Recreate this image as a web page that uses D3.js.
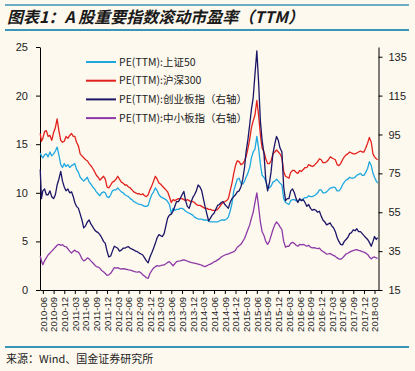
<!DOCTYPE html>
<html>
<head>
<meta charset="utf-8">
<script src="https://cdn.jsdelivr.net/npm/d3@7"></script>
<style>
  html, body { margin: 0; padding: 0; background: #fdf9ef; }
  svg { display: block; }
</style>
</head>
<body>
<div id="chart"></div>
<script>
// semi-monthly readings of the rolling PE (TTM)
const dates = [
  "2010-05-10","2010-05-20",
  "2010-06-01","2010-06-16","2010-07-01","2010-07-16","2010-08-01","2010-08-16","2010-09-01","2010-09-16","2010-10-01","2010-10-16","2010-11-01","2010-11-16","2010-12-01","2010-12-16",
  "2011-01-01","2011-01-16","2011-02-01","2011-02-16","2011-03-01","2011-03-16","2011-04-01","2011-04-16","2011-05-01","2011-05-16","2011-06-01","2011-06-16","2011-07-01","2011-07-16","2011-08-01","2011-08-16","2011-09-01","2011-09-16","2011-10-01","2011-10-16","2011-11-01","2011-11-16","2011-12-01","2011-12-16",
  "2012-01-01","2012-01-16","2012-02-01","2012-02-16","2012-03-01","2012-03-16","2012-04-01","2012-04-16","2012-05-01","2012-05-16","2012-06-01","2012-06-16","2012-07-01","2012-07-16","2012-08-01","2012-08-16","2012-09-01","2012-09-16","2012-10-01","2012-10-16","2012-11-01","2012-11-16","2012-12-01","2012-12-16",
  "2013-01-01","2013-01-16","2013-02-01","2013-02-16","2013-03-01","2013-03-16","2013-04-01","2013-04-16","2013-05-01","2013-05-16","2013-06-01","2013-06-16","2013-07-01","2013-07-16","2013-08-01","2013-08-16","2013-09-01","2013-09-16","2013-10-01","2013-10-16","2013-11-01","2013-11-16","2013-12-01","2013-12-16",
  "2014-01-01","2014-01-16","2014-02-01","2014-02-16","2014-03-01","2014-03-16","2014-04-01","2014-04-16","2014-05-01","2014-05-16","2014-06-01","2014-06-16","2014-07-01","2014-07-16","2014-08-01","2014-08-16","2014-09-01","2014-09-16","2014-10-01","2014-10-16","2014-11-01","2014-11-16","2014-12-01","2014-12-16",
  "2015-01-01","2015-01-16","2015-02-01","2015-02-16","2015-03-01","2015-03-16","2015-04-01","2015-04-16","2015-05-01","2015-05-16","2015-06-01","2015-06-16","2015-07-01","2015-07-16","2015-08-01","2015-08-16","2015-09-01","2015-09-16","2015-10-01","2015-10-16","2015-11-01","2015-11-16","2015-12-01","2015-12-16",
  "2016-01-01","2016-01-16","2016-02-01","2016-02-16","2016-03-01","2016-03-16","2016-04-01","2016-04-16","2016-05-01","2016-05-16","2016-06-01","2016-06-16","2016-07-01","2016-07-16","2016-08-01","2016-08-16","2016-09-01","2016-09-16","2016-10-01","2016-10-16","2016-11-01","2016-11-16","2016-12-01","2016-12-16",
  "2017-01-01","2017-01-16","2017-02-01","2017-02-16","2017-03-01","2017-03-16","2017-04-01","2017-04-16","2017-05-01","2017-05-16","2017-06-01","2017-06-16","2017-07-01","2017-07-16","2017-08-01","2017-08-16","2017-09-01","2017-09-16","2017-10-01","2017-10-16","2017-11-01","2017-11-16","2017-12-01","2017-12-16",
  "2018-01-01","2018-01-16","2018-02-01","2018-02-16","2018-03-01","2018-03-16","2018-03-28"
];

// 上证50 (left axis)
const sz50 = [
  14.1,13.8,
  13.6,13.9,14.0,13.7,14.2,13.8,14.0,14.3,14.7,13.9,12.9,12.6,13.0,12.7,
  12.9,12.6,12.8,12.9,13.0,12.4,12.1,11.6,11.4,11.2,11.4,11.6,11.1,10.9,10.6,10.4,10.1,9.9,9.7,10.0,10.1,10.0,9.6,9.5,
  9.8,10.2,10.3,10.3,10.5,10.3,10.1,10.0,9.8,9.7,9.6,9.4,9.3,9.1,9.0,8.9,8.8,8.8,8.7,8.6,8.6,8.7,9.3,9.8,
  10.1,10.5,10.2,9.8,9.6,9.5,9.4,9.3,9.1,8.8,7.9,8.4,8.2,8.3,8.3,8.4,8.4,8.3,8.1,8.0,7.9,7.8,7.7,7.5,
  7.4,7.3,7.3,7.3,7.2,7.2,7.2,7.1,7.0,7.0,7.0,7.0,7.0,7.1,7.2,7.2,7.2,7.3,7.5,8.1,8.9,10.2,10.8,11.4,
  11.5,11.0,10.9,11.2,11.6,12.0,12.6,13.6,14.2,14.5,15.8,14.6,13.0,11.8,11.6,11.2,10.6,10.5,10.7,11.1,11.2,11.4,11.2,11.0,
  10.8,9.4,9.0,8.9,8.8,9.2,9.3,9.3,9.2,9.1,9.3,9.2,9.4,9.5,9.5,9.7,9.6,9.6,9.7,9.8,10.0,10.3,10.3,10.0,
  10.0,10.1,10.3,10.5,10.5,10.6,10.5,10.2,10.2,10.4,10.8,11.1,11.3,11.4,11.6,11.5,11.5,11.6,11.8,11.9,12.0,11.8,11.8,12.1,
  12.5,13.2,12.8,12.0,11.6,11.2,11.0
];

// 沪深300 (left axis)
const hs300 = [
  16.1,15.3,
  15.6,16.3,16.4,15.8,15.9,15.4,16.2,16.7,17.6,16.4,15.4,15.2,15.3,15.8,
  15.6,15.9,16.1,15.8,15.8,15.2,14.8,14.0,13.8,13.6,13.4,13.3,13.0,12.8,12.5,12.2,11.8,11.6,11.3,11.5,11.7,11.4,10.6,10.5,
  10.8,11.1,11.2,11.4,11.7,11.4,11.1,11.0,10.8,10.8,10.6,10.5,10.3,10.1,10.0,9.9,9.9,9.8,9.9,9.7,9.6,9.8,10.3,10.7,
  11.2,11.7,11.4,11.0,10.9,10.7,10.5,10.3,10.1,9.6,9.0,9.3,9.2,9.3,9.4,9.4,9.4,9.3,9.2,9.3,9.2,9.1,9.1,9.0,
  8.8,8.7,8.7,8.6,8.5,8.4,8.4,8.3,8.3,8.2,8.2,8.2,8.3,8.5,8.8,9.0,9.1,9.2,9.4,10.2,11.0,12.0,12.8,13.3,
  13.2,12.9,13.0,13.3,13.7,14.5,15.5,16.7,17.4,18.0,19.5,18.0,16.0,14.6,14.2,13.5,13.0,13.0,13.3,14.0,14.2,14.4,14.2,14.0,
  13.6,12.2,11.7,11.6,11.5,12.1,12.3,12.3,12.1,12.0,12.3,12.2,12.4,12.6,12.6,12.9,12.8,12.7,12.8,13.0,13.2,13.5,13.4,13.1,
  13.1,13.2,13.4,13.7,13.6,13.5,13.4,12.9,12.8,13.0,13.4,13.7,13.9,14.0,14.2,14.1,14.0,14.0,14.1,14.2,14.3,14.2,14.2,14.6,
  15.1,15.7,15.2,14.0,13.7,13.5,13.4
];

// 创业板指 (right axis)
const cyb = [
  77,62,
  66,67,64,64,66,63,62,64,69,72,76,71,68,66,
  67,65,65.5,63,60,58,57,54,51,47,48,50,51,49,47.5,46,45,44.5,43.5,42,40,39,35,32,
  32.5,35,37.5,37,36.5,35,35.5,36.5,36.5,37,37.3,36.5,36,35.6,35,34.7,34,33.5,33,31.5,30,29,32,34,
  36.5,39,42,43.5,43,42.5,44,48,52,53.5,54,55.5,58,60.5,60.5,62,64,65.7,61,58,57,60,62.5,64,
  66,69,68,66,62.3,58,54,50.5,52,53.5,54.5,56.5,58.5,59,60,60.5,59,58,57,60,62,63,64,65.5,
  66,68,72,78,86,92,100,108,114,126,138,122,102,92,85,72,66,70,76,85,90,94,92,88,
  86,68,61,62,62,66,67,65,62,60,62,61,61.5,60,58,59,57,56,56.5,56,55,55.5,53,51,
  50,48.5,49,49.5,48,47,45,42,40,38.5,38.2,40,41,42,44,44.5,46,45.5,46.5,45,45,44,43,42,
  41,39.5,37.5,40,42.5,41,42
];

// 中小板指 (right axis)
const zxb = [
  32.5,30,
  28,30,31.5,33,34,35,36,37,38,38.5,38,38.3,37.5,37.3,
  36.2,35,34,35,35.5,34.7,34.5,33,31,30,30.5,31.5,31,30,29,28,27,26.8,26.2,25,24.4,23.5,22.5,22.8,
  23.6,25,26.5,26.3,26.5,26,25.8,26,25.8,25.6,25.3,25.2,25,24.6,24.3,24.2,24.4,23.8,22.8,22.2,21.3,21,23.5,25,
  26.3,27,27.5,27.3,27.5,27.8,27.9,28.5,29.2,29.6,28.5,27.5,28.5,29.6,29.8,30,30.3,30.5,30.2,29.8,29.5,29.2,29,28.8,
  28.6,28.3,28,27.8,27.3,27,27.5,28,28.3,28.8,29.5,29.8,30.5,31,32,32.5,33,33.3,33.6,34,34.3,34.7,35.5,37,
  37.8,38.5,40,41.5,43.5,46,48.5,52,55,60,65,58,50,45,43,40,38.5,40,43,46,48.5,50,49,47.5,
  46,40,37,37.5,37.5,39,39.5,39,38,37.5,38.5,38.2,38.5,38,37.5,38,37,36.7,36.8,36.5,36.3,36.5,35.5,34.8,
  34.2,33.5,33.6,33.8,33.2,32.8,32.3,31.5,31,30.8,31.5,32.5,33.5,33.9,34.5,35,35.3,35.6,35.8,35.4,35.1,34.7,34.5,34,
  33.3,32,31,31.8,32,31.5,31.2
];

const xTickLabels = [
  "2010-06","2010-09","2010-12","2011-03","2011-06","2011-09","2011-12","2012-03",
  "2012-06","2012-09","2012-12","2013-03","2013-06","2013-09","2013-12","2014-03",
  "2014-06","2014-09","2014-12","2015-03","2015-06","2015-09","2015-12","2016-03",
  "2016-06","2016-09","2016-12","2017-03","2017-06","2017-09","2017-12","2018-03"
];
const leftTicks = [0, 5, 10, 15, 20, 25];
const rightTicks = [15, 35, 55, 75, 95, 115, 135];

const seriesNames = ["PE(TTM):上证50", "PE(TTM):沪深300", "PE(TTM):创业板指（右轴）", "PE(TTM):中小板指（右轴）"];
const seriesColors = ["#1fa8e0", "#e3211c", "#1b1566", "#8e3aa6"];
const seriesValues = [sz50, hs300, cyb, zxb];
const seriesAxis = ["left", "left", "right", "right"];

const W = 415, H = 371;
const plot = { left: 40, right: 378.5, top: 47, bottom: 290 };
const parse = d3.timeParse("%Y-%m-%d");
const parseMonth = d3.timeParse("%Y-%m");

const svg = d3.select("#chart").append("svg")
  .attr("width", W)
  .attr("height", H)
  .style("background", "#fdf9ef");

// title rules
svg.append("line").attr("x1", 5).attr("x2", 409).attr("y1", 5).attr("y2", 5)
  .attr("stroke", "#3a95b6").attr("stroke-width", 1.5);
svg.append("line").attr("x1", 5).attr("x2", 409).attr("y1", 30).attr("y2", 30)
  .attr("stroke", "#3a95b6").attr("stroke-width", 2);
svg.append("text")
  .attr("x", 7).attr("y", 23)
  .attr("font-family", "'Noto Sans CJK SC', sans-serif")
  .attr("font-size", 16)
  .attr("font-weight", "bold")
  .attr("font-style", "italic")
  .attr("fill", "#1a1a1a")
  .text("图表1：A 股重要指数滚动市盈率（TTM）");

// source
svg.append("line").attr("x1", 5).attr("x2", 409).attr("y1", 347).attr("y2", 347)
  .attr("stroke", "#3a95b6").attr("stroke-width", 2);
svg.append("text")
  .attr("x", 6).attr("y", 363)
  .attr("font-family", "'Noto Sans CJK SC', sans-serif")
  .attr("font-size", 11)
  .attr("fill", "#222")
  .text("来源：Wind、国金证券研究所");

// scales
const x = d3.scaleTime()
  .domain([parse("2010-05-08"), parse("2018-04-04")])
  .range([plot.left, plot.right]);
const yL = d3.scaleLinear().domain([0, 25]).range([plot.bottom, plot.top]);
const yR = d3.scaleLinear().domain([15, 140]).range([plot.bottom, plot.top]);

const axisFont = "'Liberation Sans', Arial, sans-serif";

// left axis
const gL = svg.append("g")
  .attr("transform", `translate(${plot.left},0)`)
  .call(d3.axisLeft(yL).tickValues(leftTicks).tickSize(4).tickSizeOuter(0).tickPadding(8));
// right axis
const gR = svg.append("g")
  .attr("transform", `translate(${plot.right},0)`)
  .call(d3.axisRight(yR).tickValues(rightTicks).tickSize(4).tickSizeOuter(0).tickPadding(6));
// bottom axis
const gB = svg.append("g")
  .attr("transform", `translate(0,${plot.bottom})`)
  .call(d3.axisBottom(x)
    .tickValues(xTickLabels.map(parseMonth))
    .tickFormat(d3.timeFormat("%Y-%m"))
    .tickSize(4).tickSizeOuter(0));

[gL, gR, gB].forEach(g => {
  g.selectAll("path, line").attr("stroke", "#000").attr("stroke-width", 1);
  g.selectAll("text").attr("font-family", axisFont).attr("fill", "#222");
});
gL.selectAll("text").attr("font-size", 11);
gR.selectAll("text").attr("font-size", 11);
gB.selectAll("text")
  .attr("font-size", 9.5)
  .attr("text-anchor", "end")
  .attr("transform", "rotate(-90)")
  .attr("x", -7)
  .attr("y", 0)
  .attr("dy", "0.35em");

// lines
const plotArea = svg.append("g");
seriesValues.forEach((vals, i) => {
  const yS = seriesAxis[i] === "left" ? yL : yR;
  const line = d3.line()
    .x((d, j) => x(parse(dates[j])))
    .y(d => yS(d));
  plotArea.append("path")
    .datum(vals)
    .attr("fill", "none")
    .attr("stroke", seriesColors[i])
    .attr("stroke-width", 1.3)
    .attr("stroke-linejoin", "round")
    .attr("d", line);
});

// legend
const legend = svg.append("g").attr("transform", "translate(86,62)");
seriesNames.forEach((name, i) => {
  const row = legend.append("g").attr("transform", `translate(0,${i * 18.7})`);
  row.append("line").attr("x1", 0).attr("x2", 30).attr("y1", 0).attr("y2", 0)
    .attr("stroke", seriesColors[i]).attr("stroke-width", 2);
  row.append("text")
    .attr("x", 33).attr("y", 0).attr("dy", "0.35em")
    .attr("font-family", "'Noto Sans CJK SC', sans-serif")
    .attr("font-size", 10.5)
    .attr("fill", "#222")
    .text(name);
});
</script>
</body>
</html>
